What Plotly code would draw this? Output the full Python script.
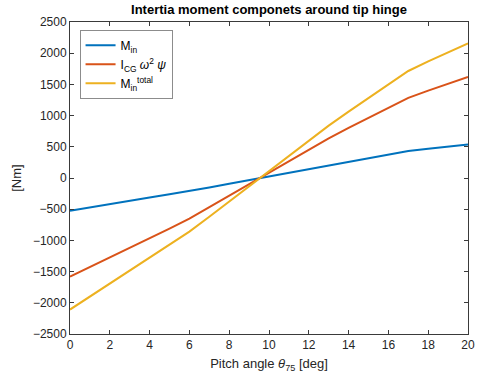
import plotly.graph_objects as go

# Pitch angle samples [deg]
pitch_deg = list(range(0, 21))

# Inertia moment about the tip hinge [Nm]
m_in = [-527, -471, -416, -364, -314, -262, -210, -152, -93, -34, 26,
        86, 146, 204, 261, 318, 375, 431, 469, 504, 538]
icg_term = [-1581, -1429, -1279, -1124, -969, -811, -650, -468, -282, -96, 90,
            274, 456, 635, 803, 966, 1126, 1284, 1400, 1512, 1620]
m_total = [-2108, -1900, -1695, -1488, -1283, -1073, -860, -620, -375, -130, 116,
           360, 602, 839, 1064, 1284, 1501, 1715, 1869, 2016, 2158]

series_names = ["M<sub>in</sub>",
                "I<sub>CG</sub> <i>\u03c9</i><sup>2</sup> <i>\u03c8</i>",
                "M<sub>in</sub><sup>total</sup>"]
series_colors = ["#0072BD", "#D95319", "#EDB120"]

x_ticks = list(range(0, 21, 2))
y_ticks = list(range(-2500, 2501, 500))

font_family = "Liberation Sans, Arial, sans-serif"
axis_color = "#3a3a3a"

fig = go.Figure()
for ys, name, color in zip([m_in, icg_term, m_total], series_names, series_colors):
    fig.add_trace(go.Scatter(x=pitch_deg, y=ys, mode="lines", name=name,
                             line=dict(color=color, width=2)))

axis_common = dict(
    showline=True, linecolor=axis_color, linewidth=1, mirror="ticks",
    ticks="inside", ticklen=4, tickcolor=axis_color, tickwidth=1,
    showgrid=False, zeroline=False, automargin=False,
    tickfont=dict(family=font_family, size=12, color="#262626"),
)

fig.update_layout(
    width=478, height=381,
    margin=dict(l=70, r=10, t=22, b=47),
    paper_bgcolor="white", plot_bgcolor="white",
    title=dict(text="<b>Intertia moment componets around tip hinge</b>",
               x=0.5, xref="paper", xanchor="center", y=0.988, yanchor="top",
               font=dict(family=font_family, size=13, color="#000000")),
    xaxis=dict(range=[0, 20], tickvals=x_ticks,
               title=dict(text="Pitch angle <i>\u03b8</i><sub>75</sub> [deg]", standoff=7,
                          font=dict(family=font_family, size=13, color="#262626")),
               **axis_common),
    yaxis=dict(range=[-2500, 2500], tickvals=y_ticks,
               title=dict(text="[Nm]", standoff=8,
                          font=dict(family=font_family, size=13, color="#262626")),
               **axis_common),
    legend=dict(x=0.024, y=0.975, xanchor="left", yanchor="top",
                bgcolor="white", bordercolor="#8c8c8c", borderwidth=1,
                font=dict(family=font_family, size=12, color="#000000"),
                tracegroupgap=0),
    showlegend=True,
)

fig.write_html("out.html")
